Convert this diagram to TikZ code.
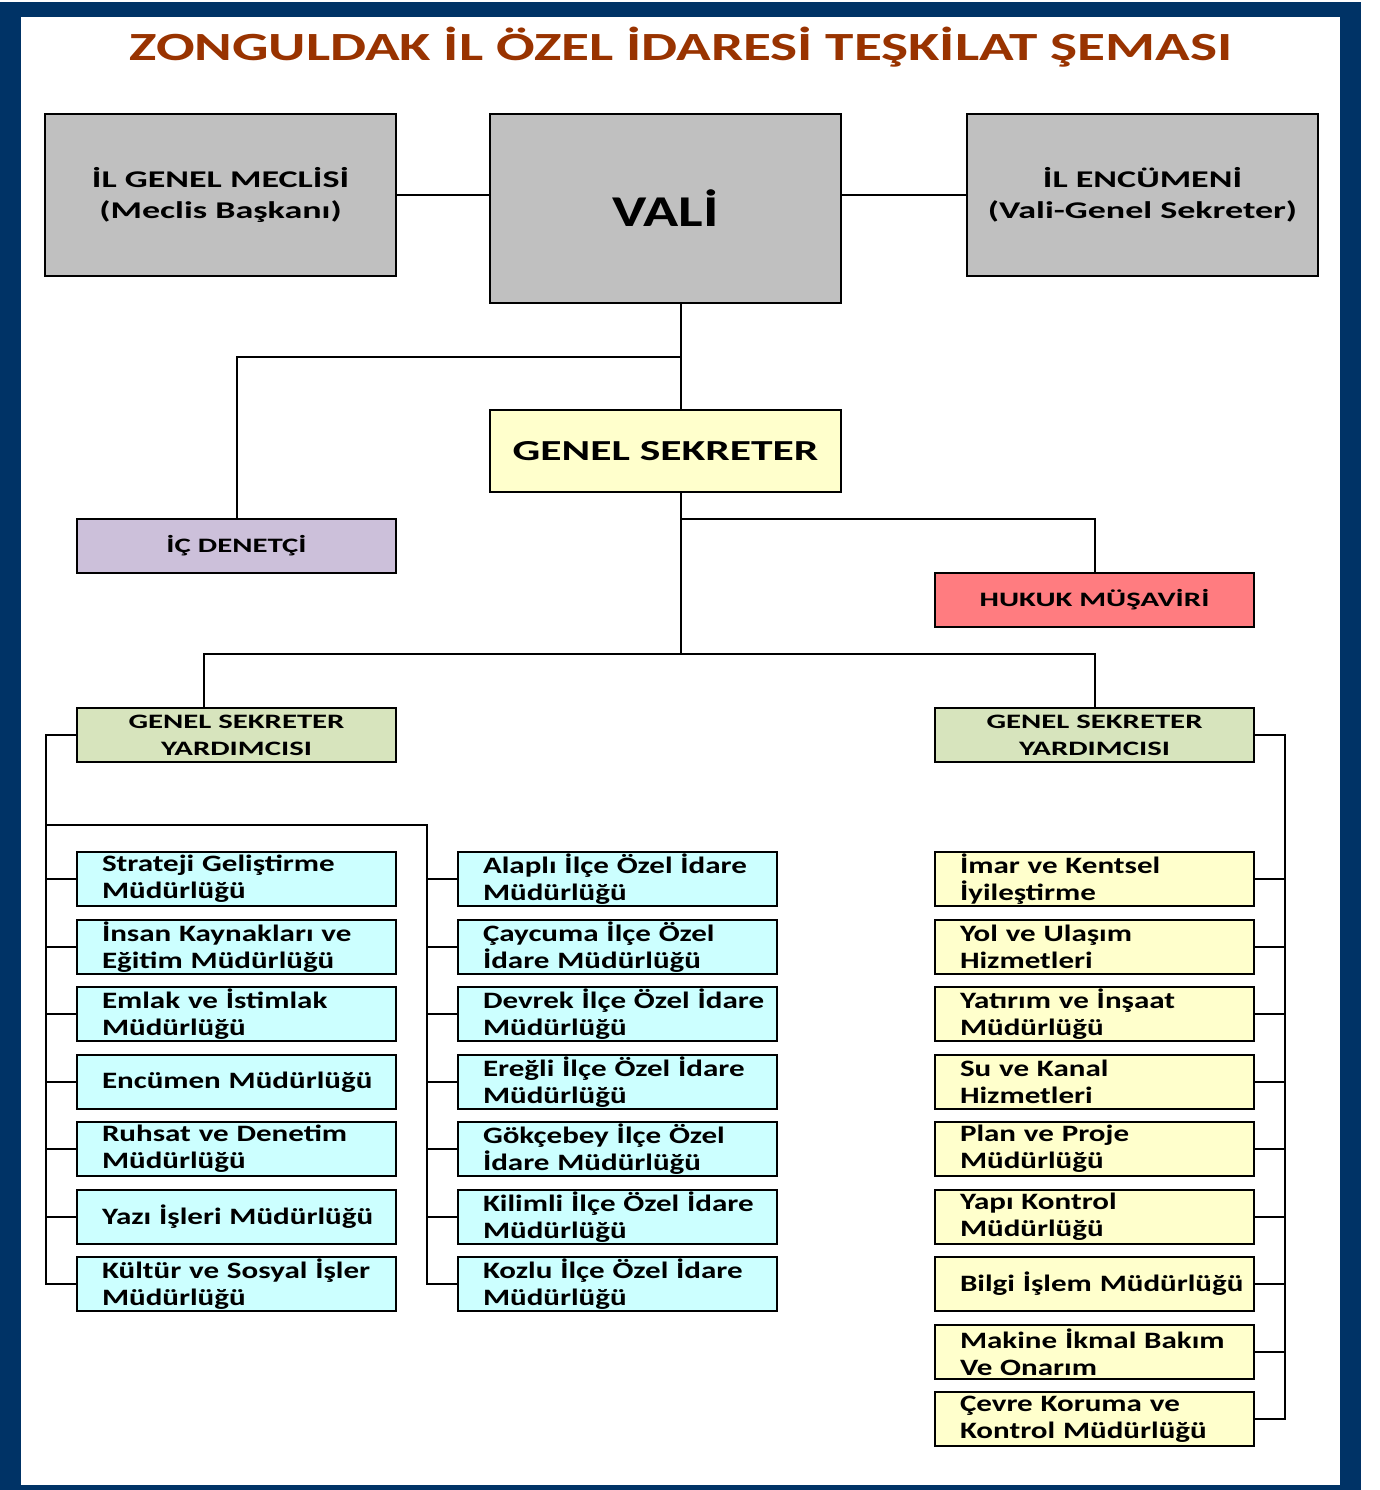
\documentclass[tikz,border=0pt]{standalone}
\usepackage{fontspec}
\setmainfont{Carlito}
\newfontfamily\titleface{Carlito}[FakeStretch=1.43]
\newfontfamily\wideface{Carlito}[FakeStretch=1.5]
\newfontfamily\unitface{Carlito}[FakeStretch=1.32]
\usetikzlibrary{positioning}
\definecolor{frameblue}{HTML}{003366}
\definecolor{titlered}{HTML}{993300}
\definecolor{topgray}{HTML}{C0C0C0}
\definecolor{paleyellow}{HTML}{FFFFCC}
\definecolor{lilac}{HTML}{CCC0DA}
\definecolor{salmon}{HTML}{FF7C80}
\definecolor{palegreen}{HTML}{D7E4BD}
\definecolor{palecyan}{HTML}{CCFFFF}
\tikzset{
	topbox/.style={rectangle,draw=black,line width=2.5pt,fill=topgray,minimum width=351pt,minimum height=162pt,align=center,font=\wideface\bfseries\fontsize{24}{31}\selectfont},
	midbox/.style={rectangle,draw=black,line width=2.5pt,minimum width=319pt,minimum height=54pt,align=center,inner sep=0pt,font=\wideface\bfseries\fontsize{20.5}{27}\selectfont},
	unitbox/.style={rectangle,draw=black,line width=2.5pt,minimum width=319pt,minimum height=54pt,text width=269pt,inner xsep=25pt,inner ysep=0pt,align=left,execute at begin node={\rightskip=0pt minus 60pt},font=\unitface\bfseries\fontsize{23.5}{27}\selectfont},
	leftunit/.style={unitbox,fill=palecyan},
	rightunit/.style={unitbox,fill=paleyellow},
	conn/.style={line width=2pt}}
\begin{document}
\begin{tikzpicture}[x=1pt,y=-1pt]
	\useasboundingbox (0,0) rectangle (1379,1490);
	\fill[frameblue] (0,2) rectangle (1361,1490);
	\fill[white] (21,17) rectangle (1340,1485);
	\node (title) at (681,47) [font=\titleface\bfseries\fontsize{40}{48}\selectfont,text=titlered] {ZONGULDAK İL ÖZEL İDARESİ TEŞKİLAT ŞEMASI};
	% ust kademe
	\node (meclis) at (220.5,195) [topbox] {İL GENEL MECLİSİ\\(Meclis Başkanı)};
	\node (vali) at (665.5,208.5) [topbox,minimum height=189pt,font=\unitface\bfseries\fontsize{44}{50}\selectfont] {VALİ};
	\node (encumen) at (1142.5,195) [topbox] {İL ENCÜMENİ\\(Vali-Genel Sekreter)};
	\node (gs) at (665.5,451) [topbox,fill=paleyellow,minimum height=82pt,font=\wideface\bfseries\fontsize{29}{36}\selectfont] {GENEL SEKRETER};
	\node (ic) at (236.5,546) [midbox,fill=lilac] {İÇ DENETÇİ};
	\node (hukuk) at (1094.5,600) [midbox,fill=salmon] {HUKUK MÜŞAVİRİ};
	\node (gsyL) at (236.5,735) [midbox,fill=palegreen] {GENEL SEKRETER\\YARDIMCISI};
	\node (gsyR) at (1094.5,735) [midbox,fill=palegreen] {GENEL SEKRETER\\YARDIMCISI};
	% sol kolon
	\node (k1) at (236.5,879) [leftunit] {Strateji Geliştirme\\Müdürlüğü};
	\node (k2) at (236.5,947) [leftunit] {İnsan Kaynakları ve\\Eğitim Müdürlüğü};
	\node (k3) at (236.5,1014) [leftunit] {Emlak ve İstimlak\\Müdürlüğü};
	\node (k4) at (236.5,1082) [leftunit] {Encümen Müdürlüğü};
	\node (k5) at (236.5,1149) [leftunit] {Ruhsat ve Denetim\\Müdürlüğü};
	\node (k6) at (236.5,1217) [leftunit] {Yazı İşleri Müdürlüğü};
	\node (k7) at (236.5,1284) [leftunit] {Kültür ve Sosyal İşler\\Müdürlüğü};
	% ilceler
	\node (m1) at (617.5,879) [leftunit] {Alaplı İlçe Özel İdare\\Müdürlüğü};
	\node (m2) at (617.5,947) [leftunit] {Çaycuma İlçe Özel\\İdare Müdürlüğü};
	\node (m3) at (617.5,1014) [leftunit] {Devrek İlçe Özel İdare\\Müdürlüğü};
	\node (m4) at (617.5,1082) [leftunit] {Ereğli İlçe Özel İdare\\Müdürlüğü};
	\node (m5) at (617.5,1149) [leftunit] {Gökçebey İlçe Özel\\İdare Müdürlüğü};
	\node (m6) at (617.5,1217) [leftunit] {Kilimli İlçe Özel İdare\\Müdürlüğü};
	\node (m7) at (617.5,1284) [leftunit] {Kozlu İlçe Özel İdare\\Müdürlüğü};
	% sag kolon
	\node (r1) at (1094.5,879) [rightunit] {İmar ve Kentsel\\İyileştirme};
	\node (r2) at (1094.5,947) [rightunit] {Yol ve Ulaşım\\Hizmetleri};
	\node (r3) at (1094.5,1014) [rightunit] {Yatırım ve İnşaat\\Müdürlüğü};
	\node (r4) at (1094.5,1082) [rightunit] {Su ve Kanal\\Hizmetleri};
	\node (r5) at (1094.5,1149) [rightunit] {Plan ve Proje\\Müdürlüğü};
	\node (r6) at (1094.5,1217) [rightunit] {Yapı Kontrol\\Müdürlüğü};
	\node (r7) at (1094.5,1284) [rightunit] {Bilgi İşlem Müdürlüğü};
	\node (r8) at (1094.5,1352) [rightunit] {Makine İkmal Bakım\\Ve Onarım};
	\node (r9) at (1094.5,1419) [rightunit] {Çevre Koruma ve\\Kontrol Müdürlüğü};
	% baglanti noktalari
	\coordinate (j1) at (681,357);
	\coordinate (j2) at (681,519);
	\coordinate (j3) at (681,654);
	\coordinate (bL) at (204,654);
	\coordinate (brL) at (46,825);
	\coordinate (spL) at (46,1284);
	\coordinate (spM) at (427,1284);
	\coordinate (spR) at (1285,1419);
	\draw[conn] (meclis.east |- 0,195) -- (vali.west |- 0,195);
	\draw[conn] (vali.east |- 0,195) -- (encumen.west |- 0,195);
	\draw[conn] (vali.south -| j1) -- (gs.north -| j1);
	\draw[conn] (j1) -| (ic.north);
	\draw[conn] (gs.south -| j2) -- (j3);
	\draw[conn] (j2) -| (hukuk.north);
	\draw[conn] (bL |- gsyL.north) -- (bL) -| (gsyR.north);
	\draw[conn] (gsyL.west) -| (spL) -- (k7.west);
	\draw[conn] (brL) -| (spM) -- (m7.west);
	\draw[conn] (gsyR.east) -| (spR) -- (r9.east);
	\draw[conn] (k1.west) -- (k1.west -| spL);
	\draw[conn] (k2.west) -- (k2.west -| spL);
	\draw[conn] (k3.west) -- (k3.west -| spL);
	\draw[conn] (k4.west) -- (k4.west -| spL);
	\draw[conn] (k5.west) -- (k5.west -| spL);
	\draw[conn] (k6.west) -- (k6.west -| spL);
	\draw[conn] (m1.west) -- (m1.west -| spM);
	\draw[conn] (m2.west) -- (m2.west -| spM);
	\draw[conn] (m3.west) -- (m3.west -| spM);
	\draw[conn] (m4.west) -- (m4.west -| spM);
	\draw[conn] (m5.west) -- (m5.west -| spM);
	\draw[conn] (m6.west) -- (m6.west -| spM);
	\draw[conn] (r1.east) -- (r1.east -| spR);
	\draw[conn] (r2.east) -- (r2.east -| spR);
	\draw[conn] (r3.east) -- (r3.east -| spR);
	\draw[conn] (r4.east) -- (r4.east -| spR);
	\draw[conn] (r5.east) -- (r5.east -| spR);
	\draw[conn] (r6.east) -- (r6.east -| spR);
	\draw[conn] (r7.east) -- (r7.east -| spR);
	\draw[conn] (r8.east) -- (r8.east -| spR);
\end{tikzpicture}
\end{document}
